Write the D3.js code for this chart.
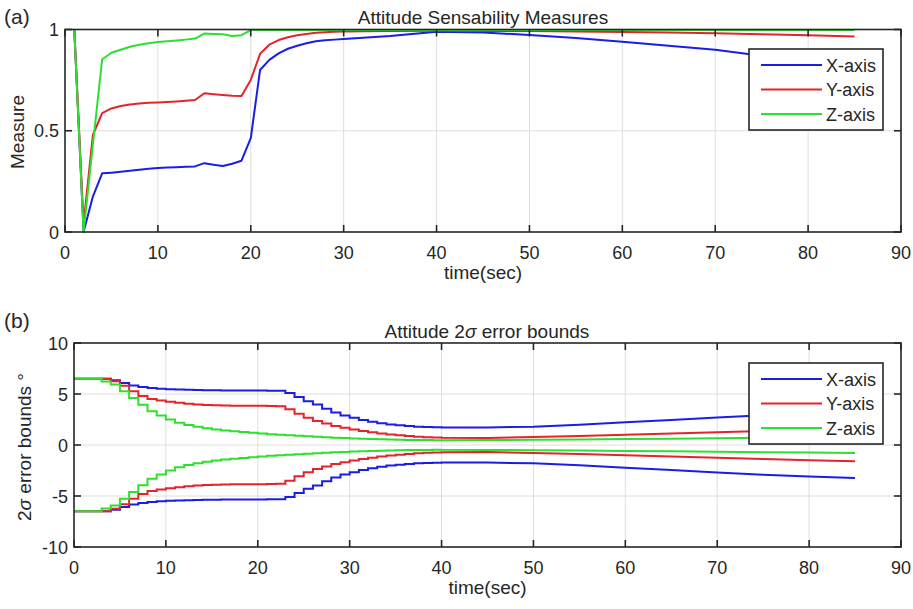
<!DOCTYPE html>
<html>
<head>
<meta charset="utf-8">
<script src="https://cdn.jsdelivr.net/npm/d3@7"></script>
<style>
  body { margin: 0; background: #fff; }
  text { font-family: "Liberation Sans", Arial, sans-serif; fill: #262626; }
</style>
</head>
<body>
<div id="chart"></div>
<script>
// (a) sensability measures, sampled at 1 s then every 5 s
var timeA = [1, 2, 3, 4, 5, 6, 7, 8, 9, 10, 11, 12, 13, 14, 15, 16, 17, 18, 19, 20,
  21, 22, 23, 24, 25, 26, 27, 28, 29, 30, 35, 40, 45, 50, 55, 60, 65, 70, 75, 80, 85];
var xMeasure = [1, 0, 0.175, 0.29, 0.293, 0.297, 0.302, 0.307, 0.312, 0.316, 0.318, 0.32, 0.322, 0.324, 0.34, 0.332, 0.326, 0.337, 0.352, 0.463,
  0.80, 0.85, 0.882, 0.905, 0.92, 0.932, 0.942, 0.947, 0.95, 0.953, 0.968, 0.989, 0.985, 0.973, 0.958, 0.94, 0.92, 0.9, 0.87, 0.85, 0.835];
var yMeasure = [1, 0.04, 0.479, 0.587, 0.61, 0.622, 0.63, 0.635, 0.638, 0.64, 0.642, 0.645, 0.648, 0.652, 0.685, 0.68, 0.676, 0.673, 0.672, 0.751,
  0.88, 0.925, 0.948, 0.962, 0.972, 0.978, 0.984, 0.987, 0.989, 0.99, 0.992, 0.994, 0.993, 0.992, 0.99, 0.988, 0.985, 0.981, 0.976, 0.971, 0.966];
var zMeasure = [1, 0, 0.43, 0.853, 0.885, 0.9, 0.915, 0.925, 0.932, 0.938, 0.942, 0.946, 0.95, 0.955, 0.98, 0.978, 0.977, 0.968, 0.972, 0.997,
  0.997, 0.997, 0.997, 0.997, 0.997, 0.997, 0.997, 0.997, 0.997, 0.997, 0.997, 0.997, 0.997, 0.997, 0.997, 0.997, 0.997, 0.997, 0.997, 0.997, 0.997];

// (b) 2-sigma bounds (upper, lower is the mirror), steps of 1 s up to 40 s
var timeB = [0, 1, 2, 3, 4, 5, 6, 7, 8, 9, 10, 11, 12, 13, 14, 15, 16, 17, 18, 19, 20,
  21, 22, 23, 24, 25, 26, 27, 28, 29, 30, 31, 32, 33, 34, 35, 36, 37, 38, 39, 40,
  45, 50, 55, 60, 65, 70, 75, 80, 85];
var xBound = [6.5, 6.5, 6.5, 6.5, 6.35, 6.08, 5.83, 5.68, 5.58, 5.52, 5.47, 5.44, 5.41, 5.39, 5.37, 5.36, 5.35, 5.35, 5.34, 5.34, 5.34,
  5.33, 5.33, 5.1, 4.7, 4.3, 3.97, 3.55, 3.18, 2.9, 2.66, 2.46, 2.28, 2.14, 2.02, 1.93, 1.86, 1.8, 1.76, 1.73, 1.71,
  1.72, 1.8, 1.99, 2.22, 2.46, 2.7, 2.92, 3.1, 3.24];
var yBound = [6.5, 6.5, 6.5, 6.5, 6.25, 5.82, 5.27, 4.8, 4.52, 4.36, 4.25, 4.14, 4.05, 3.98, 3.92, 3.89, 3.87, 3.86, 3.85, 3.85, 3.84,
  3.83, 3.8, 3.5, 3.06, 2.68, 2.35, 2.1, 1.86, 1.68, 1.52, 1.37, 1.25, 1.12, 1.03, 0.96, 0.88, 0.82, 0.77, 0.73, 0.7,
  0.68, 0.78, 0.89, 1.0, 1.13, 1.26, 1.38, 1.5, 1.6];
var zBound = [6.5, 6.5, 6.5, 6.22, 5.92, 5.26, 4.6, 3.95, 3.3, 2.88, 2.5, 2.18, 1.95, 1.78, 1.64, 1.53, 1.43, 1.35, 1.27, 1.2, 1.13,
  1.06, 1.0, 0.95, 0.9, 0.85, 0.8, 0.76, 0.72, 0.68, 0.64, 0.61, 0.58, 0.56, 0.54, 0.52, 0.5, 0.49, 0.48, 0.47, 0.46,
  0.48, 0.52, 0.55, 0.58, 0.62, 0.66, 0.7, 0.74, 0.78];

var seriesNames = ["X-axis", "Y-axis", "Z-axis"];
var seriesColors = ["#1c1ce8", "#e3242b", "#2ee02e"];

var xTicks = [0, 10, 20, 30, 40, 50, 60, 70, 80, 90];
var yTicksA = [0, 0.5, 1];
var yTickLabelsA = ["0", "0.5", "1"];
var yTicksB = [-10, -5, 0, 5, 10];
var yTickLabelsB = ["-10", "-5", "0", "5", "10"];

var width = 913, height = 609;
var svg = d3.select("#chart").append("svg")
    .attr("width", width)
    .attr("height", height);

function drawGrid(g, x, y, yTicks) {
  var x0 = x.range()[0], x1 = x.range()[1];
  var y0 = y.range()[0], y1 = y.range()[1];

  g.selectAll(".vgrid").data(xTicks.slice(1, -1)).enter().append("line")
      .attr("x1", function(d) { return x(d); }).attr("x2", function(d) { return x(d); })
      .attr("y1", y0).attr("y2", y1)
      .style("stroke", "#dedede").style("stroke-width", 1);
  g.selectAll(".hgrid").data(yTicks.slice(1, -1)).enter().append("line")
      .attr("x1", x0).attr("x2", x1)
      .attr("y1", function(d) { return y(d); }).attr("y2", function(d) { return y(d); })
      .style("stroke", "#dedede").style("stroke-width", 1);
}

function drawFrame(g, x, y, yTicks, yLabels) {
  var x0 = x.range()[0], x1 = x.range()[1];
  var y0 = y.range()[0], y1 = y.range()[1];
  var tl = 7;

  g.append("rect")
      .attr("x", x0).attr("y", y1)
      .attr("width", x1 - x0).attr("height", y0 - y1)
      .style("fill", "none").style("stroke", "#262626").style("stroke-width", 1.6);

  // inward ticks on all four sides
  xTicks.forEach(function(d) {
    g.append("line").attr("x1", x(d)).attr("x2", x(d)).attr("y1", y0).attr("y2", y0 - tl)
        .style("stroke", "#262626").style("stroke-width", 1.6);
    g.append("line").attr("x1", x(d)).attr("x2", x(d)).attr("y1", y1).attr("y2", y1 + tl)
        .style("stroke", "#262626").style("stroke-width", 1.6);
  });
  yTicks.forEach(function(d) {
    g.append("line").attr("x1", x0).attr("x2", x0 + tl).attr("y1", y(d)).attr("y2", y(d))
        .style("stroke", "#262626").style("stroke-width", 1.6);
    g.append("line").attr("x1", x1).attr("x2", x1 - tl).attr("y1", y(d)).attr("y2", y(d))
        .style("stroke", "#262626").style("stroke-width", 1.6);
  });

  g.selectAll(".xlab").data(xTicks).enter().append("text")
      .attr("x", function(d) { return x(d); })
      .attr("y", y0 + 27)
      .style("text-anchor", "middle")
      .style("font-size", "18px")
      .text(function(d) { return d; });

  g.selectAll(".ylab").data(yTicks).enter().append("text")
      .attr("x", x0 - 6)
      .attr("y", function(d) { return y(d) + 6.5; })
      .style("text-anchor", "end")
      .style("font-size", "18px")
      .text(function(d, i) { return yLabels[i]; });

  g.append("text")
      .attr("x", (x0 + x1) / 2)
      .attr("y", y0 + 47)
      .style("text-anchor", "middle")
      .style("font-size", "19px")
      .text("time(sec)");
}

function drawLegend(g, left, top) {
  var w = 134, h = 81;
  g.append("rect")
      .attr("x", left).attr("y", top).attr("width", w).attr("height", h)
      .style("fill", "#fff").style("stroke", "#262626").style("stroke-width", 1.6);
  seriesNames.forEach(function(name, i) {
    var cy = top + 16 + i * 24.5;
    g.append("line")
        .attr("x1", left + 12).attr("x2", left + 73)
        .attr("y1", cy).attr("y2", cy)
        .style("stroke", seriesColors[i]).style("stroke-width", 2);
    g.append("text")
        .attr("x", left + 77).attr("y", cy + 6.5)
        .style("font-size", "18px")
        .text(name);
  });
}

// ---------- (a) ----------
var xA = d3.scaleLinear().domain([0, 90]).range([65, 901]);
var yA = d3.scaleLinear().domain([0, 1]).range([232, 29.5]);
var gA = svg.append("g");
drawGrid(gA, xA, yA, yTicksA);

var lineA = d3.line()
    .x(function(d) { return xA(d[0]); })
    .y(function(d) { return yA(d[1]); });

[xMeasure, yMeasure, zMeasure].forEach(function(vals, i) {
  gA.append("path")
      .datum(timeA.map(function(t, j) { return [t, vals[j]]; }))
      .attr("d", lineA)
      .style("fill", "none")
      .style("stroke", seriesColors[i])
      .style("stroke-width", 2)
      .style("stroke-linejoin", "round");
});

drawFrame(gA, xA, yA, yTicksA, yTickLabelsA);
drawLegend(gA, 749, 49);

gA.append("text").attr("x", 483).attr("y", 24)
    .style("text-anchor", "middle").style("font-size", "19px")
    .text("Attitude Sensability Measures");
gA.append("text").attr("x", 4).attr("y", 24)
    .style("font-size", "21px").text("(a)");
gA.append("text")
    .attr("transform", "translate(24,132) rotate(-90)")
    .style("text-anchor", "middle").style("font-size", "19px")
    .text("Measure");

// ---------- (b) ----------
var xB = d3.scaleLinear().domain([0, 90]).range([74, 901]);
var yB = d3.scaleLinear().domain([-10, 10]).range([547, 343]);
var gB = svg.append("g");
drawGrid(gB, xB, yB, yTicksB);

var lineB = d3.line()
    .x(function(d) { return xB(d[0]); })
    .y(function(d) { return yB(d[1]); });

// stairs where samples are 1 s apart, straight segments after that
function stairs(vals, sign) {
  var pts = [];
  timeB.forEach(function(t, j) {
    pts.push([t, sign * vals[j]]);
    if (j < timeB.length - 1 && timeB[j + 1] - t <= 1) pts.push([timeB[j + 1], sign * vals[j]]);
  });
  return pts;
}

[xBound, yBound, zBound].forEach(function(vals, i) {
  [1, -1].forEach(function(sign) {
    gB.append("path")
        .datum(stairs(vals, sign))
        .attr("d", lineB)
        .style("fill", "none")
        .style("stroke", seriesColors[i])
        .style("stroke-width", 2);
  });
});

drawFrame(gB, xB, yB, yTicksB, yTickLabelsB);
drawLegend(gB, 749, 363);

var tB = gB.append("text").attr("x", 487).attr("y", 338)
    .style("text-anchor", "middle").style("font-size", "19px");
tB.append("tspan").text("Attitude 2");
tB.append("tspan").style("font-style", "italic").text("\u03c3");
tB.append("tspan").text(" error bounds");

gB.append("text").attr("x", 4).attr("y", 328)
    .style("font-size", "21px").text("(b)");
var lB = gB.append("text")
    .attr("transform", "translate(31,447) rotate(-90)")
    .style("text-anchor", "middle").style("font-size", "19px");
lB.append("tspan").text("2");
lB.append("tspan").style("font-style", "italic").text("\u03c3");
lB.append("tspan").text(" error bounds \u00b0");
</script>
</body>
</html>
